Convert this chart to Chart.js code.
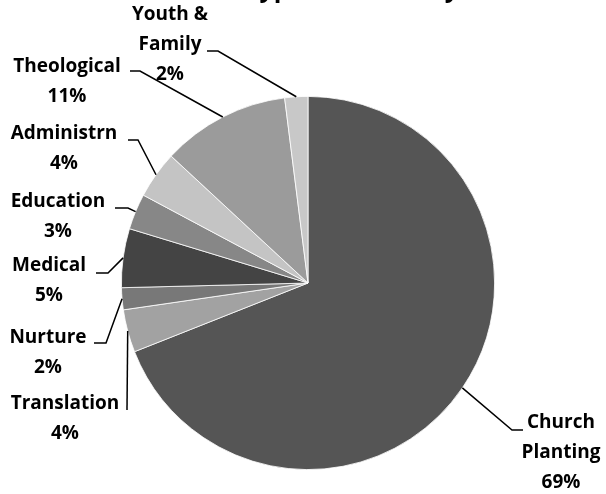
<!DOCTYPE html>
<html>
<head>
<meta charset="utf-8">
<script src="https://cdn.jsdelivr.net/npm/chart.js@4"></script>
<style>
  body { margin: 0; background: #fff; }
  #wrap { width: 606px; height: 494px; }
</style>
</head>
<body>
<div id="wrap"><canvas id="myChart" width="606" height="494"></canvas></div>
<script>
// data (percent of total)
var titleText = "Types of Ministry";
var categories = ["Church Planting", "Translation", "Nurture", "Medical",
                  "Education", "Administrn", "Theological", "Youth & Family"];
var values = [69.0, 3.7, 1.9, 5.1, 3.1, 4.1, 11.1, 2.0];
// how each category label is broken over lines
var labelLines = [["Church", "Planting"], ["Translation"], ["Nurture"], ["Medical"],
                  ["Education"], ["Administrn"], ["Theological"], ["Youth &", "Family"]];
var sliceColors = ["#555555", "#a2a2a2", "#787878", "#444444",
                   "#878787", "#c4c4c4", "#9b9b9b", "#c8c8c8"];

// where the data labels sit: text centre x, first line y, knee and end of leader line
var labelPos = [
  {x: 561, y: 423, knee: [512, 430], end: [523, 430]},
  {x: 65,  y: 404, knee: [127, 410], end: [127, 410]},
  {x: 48,  y: 338, knee: [106, 343], end: [94, 343]},
  {x: 49,  y: 266, knee: [108, 273], end: [96, 273]},
  {x: 58,  y: 202, knee: [128, 208], end: [115, 208]},
  {x: 64,  y: 134, knee: [138, 140], end: [128, 140]},
  {x: 67,  y: 67,  knee: [140, 71],  end: [130, 71]},
  {x: 170, y: 15,  knee: [218, 51],  end: [207, 51]}
];

var labelFont = "bold 19px 'Open Sans'";
var lineGap = 30;

// leader lines + labels, excel style
var pieLabels = {
  id: "pieLabels",
  afterDraw: function(chart) {
    var ctx = chart.ctx;
    var meta = chart.getDatasetMeta(0);
    var total = values.reduce(function(a, b) { return a + b; }, 0);
    ctx.save();

    // title, mostly outside the canvas like in the original
    ctx.font = "bold 25px 'Open Sans'";
    ctx.fillStyle = "#000";
    ctx.textAlign = "left";
    ctx.textBaseline = "alphabetic";
    ctx.fillText(titleText, 245, -3);

    meta.data.forEach(function(arc, i) {
      var p = arc.getProps(["x", "y", "startAngle", "endAngle", "outerRadius"], true);
      var mid = (p.startAngle + p.endAngle) / 2;
      var ax = p.x + Math.cos(mid) * p.outerRadius;
      var ay = p.y + Math.sin(mid) * p.outerRadius;
      var pos = labelPos[i];

      ctx.strokeStyle = "#000";
      ctx.lineWidth = 1.5;
      ctx.beginPath();
      ctx.moveTo(ax, ay);
      ctx.lineTo(pos.knee[0], pos.knee[1]);
      ctx.lineTo(pos.end[0], pos.end[1]);
      ctx.stroke();

      var lines = labelLines[i].concat([Math.round(values[i] / total * 100) + "%"]);
      ctx.font = labelFont;
      ctx.fillStyle = "#000";
      ctx.textAlign = "center";
      ctx.textBaseline = "middle";
      lines.forEach(function(t, k) {
        ctx.fillText(t, pos.x, pos.y + k * lineGap);
      });
    });
    ctx.restore();
  }
};

new Chart("myChart", {
  type: "pie",
  data: {
    labels: categories,
    datasets: [{
      data: values,
      backgroundColor: sliceColors,
      borderColor: "#ffffff",
      borderWidth: 0.8
    }]
  },
  options: {
    responsive: false,
    animation: false,
    layout: { padding: { top: 96, bottom: 24, left: 121, right: 111 } },
    plugins: {
      legend: { display: false },
      tooltip: { enabled: false },
      title: { display: false }
    }
  },
  plugins: [pieLabels]
});
</script>
</body>
</html>
